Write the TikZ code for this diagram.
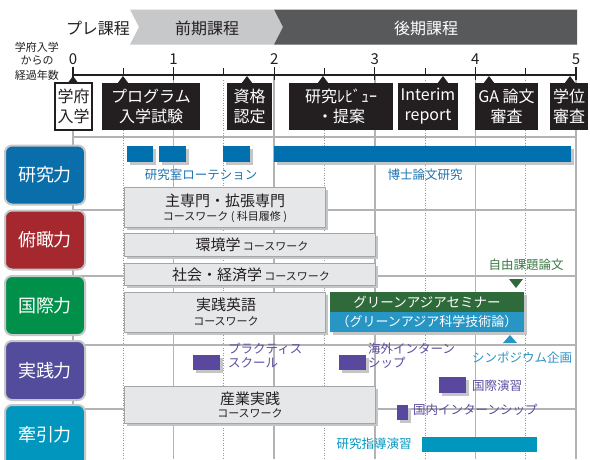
\documentclass[tikz,border=0pt]{standalone}
\usepackage{fontspec}
\setmainfont{Noto Sans CJK JP}
\usetikzlibrary{shadows}
\definecolor{ink}{HTML}{231F20}
\definecolor{hdrlight}{HTML}{C7C8CA}
\definecolor{hdrdark}{HTML}{58595B}
\definecolor{gridc}{HTML}{B3B3B3}
\definecolor{catborder}{HTML}{C6C7C8}
\definecolor{catblue}{HTML}{0A6EAB}
\definecolor{catred}{HTML}{A5282F}
\definecolor{catgreen}{HTML}{00904A}
\definecolor{catpurple}{HTML}{534B9C}
\definecolor{catteal}{HTML}{0096BE}
\definecolor{barblue}{HTML}{0071AE}
\definecolor{txtblue}{HTML}{1F74B0}
\definecolor{seminargreen}{HTML}{2F6B3A}
\definecolor{txtgreen}{HTML}{3C7A45}
\definecolor{seminarteal}{HTML}{2796C5}
\definecolor{txtteal}{HTML}{2F93C3}
\definecolor{boxpurple}{HTML}{5A489E}
\definecolor{txtpurple}{HTML}{5E4DA0}
\definecolor{guideteal}{HTML}{0097BF}
\definecolor{cwfill}{HTML}{E6E7E8}
\definecolor{cwdraw}{HTML}{A3A5A8}
\definecolor{shadowc}{HTML}{C4C5C7}
\begin{document}
\begin{tikzpicture}[x=1pt,y=-1pt,
  gridline/.style={draw=gridc,line width=1.5pt},
  griddot/.style={draw=gridc!85!black,line width=1pt,dash pattern=on 1pt off 1.5pt},
  hdrtext/.style={font=\fontsize{16}{18}\selectfont,inner sep=0pt},
  ticklab/.style={font=\fontsize{15}{16}\selectfont,inner sep=0pt,text=ink},
  leftlab/.style={font=\fontsize{11}{13}\selectfont,inner sep=0pt,text=ink},
  ms/.style={fill=ink,text=white,font=\fontsize{16}{20}\selectfont,align=center,inner sep=0pt,minimum height=47pt},
  cat/.style={rounded corners=7pt,draw=catborder,line width=2pt,minimum width=80pt,minimum height=59pt,text=white,font=\fontsize{18}{20}\selectfont,inner sep=0pt},
  shd/.style={drop shadow={shadow xshift=2.5pt,shadow yshift=-2.5pt,fill=shadowc,opacity=1}},
  bar/.style={inner sep=0pt,outer sep=0pt,anchor=north west,shd},
  cw/.style={fill=cwfill,draw=cwdraw,line width=1.3pt,inner sep=0pt,anchor=north west,shd},
  big/.style={font=\fontsize{15}{18}\selectfont,text=ink,inner sep=0pt},
  small/.style={font=\fontsize{11}{13}\selectfont,text=ink,inner sep=0pt},
  lab/.style={font=\fontsize{12.5}{14}\selectfont,inner sep=0pt}
]
\useasboundingbox (0,0) rectangle (590,459);
\begin{scope}
\clip (0,0) rectangle (590,459);
\fill[white] (0,0) rectangle (590,459);

% header band
\fill[hdrlight] (130,9.5) -- (274,9.5) -- (283,27) -- (274,44.5) -- (130,44.5) -- (139,27) -- cycle;
\fill[hdrdark] (274,9.5) -- (577,9.5) -- (577,44.5) -- (274,44.5) -- (283,27) -- cycle;
\node[hdrtext,text=ink] (pre) at (98,28) {プレ課程};
\node[hdrtext,text=ink] (zenki) at (207,28) {前期課程};
\node[hdrtext,text=white] (kouki) at (426,28) {後期課程};

% left axis label
\node[leftlab] (l1) at (37,47) {学府入学};
\node[leftlab] (l2) at (37,61) {からの};
\node[leftlab] (l3) at (37,75) {経過年数};

% grid
\foreach \t in {0,1,2,3,4,5} \draw[gridline] ({73+100.6*\t},75) -- ({73+100.6*\t},459);
\foreach \t in {0.5,1.5,2.5,3.5,4.5} \draw[griddot] ({73+100.6*\t},80) -- ({73+100.6*\t},459);
\foreach \yy in {137,210,276,345,409} \draw[gridline] (73,\yy) -- (576,\yy);

% axis
\draw[ink,line width=1.3pt] (73,75) -- (576.5,75);
\foreach \t in {0,1,2,3,4,5} {
  \draw[ink,line width=1.3pt] ({73+100.6*\t},67) -- ({73+100.6*\t},80);
  \node[ticklab] (y\t) at ({73+100.6*\t},59) {\t};
}
\foreach \t in {0.5,1.5,2.5,3.5,4.5} \draw[ink,line width=1pt] ({73+100.6*\t},68) -- ({73+100.6*\t},75);

% milestone pointers
\foreach \px in {73,123,247,323,443,489,570} \fill[ink] (\px,76) -- (\px-6,84) -- (\px+6,84) -- cycle;

% milestones
\node[ms,fill=white,draw=ink,line width=1.3pt,text=ink,minimum width=37pt] (m0) at (73.5,106.5) {学府\\入学};
\node[ms,minimum width=98pt] (m1) at (151,106.5) {プログラム\\入学試験};
\node[ms,minimum width=45pt] (m2) at (249.5,106.5) {資格\\認定};
\node[ms,minimum width=104pt] (m3) at (341,106.5) {研究ﾚﾋﾞｭｰ\\・提案};
\node[ms,minimum width=60pt] (m4) at (428,106.5) {Interim\\report};
\node[ms,minimum width=63pt] (m5) at (506.5,106.5) {GA 論文\\審査};
\node[ms,minimum width=38pt] (m6) at (569,106.5) {学位\\審査};

% category boxes
\node[cat,fill=catblue] (c1) at (45,175) {研究力};
\node[cat,fill=catred] (c2) at (45,240) {俯瞰力};
\node[cat,fill=catgreen] (c3) at (45,305.5) {国際力};
\node[cat,fill=catpurple] (c4) at (45,370.5) {実践力};
\node[cat,fill=catteal,minimum height=62pt] (c5) at (45,436) {};
\node[font=\fontsize{18}{20}\selectfont,text=white,inner sep=0pt] (c5t) at (45,435) {牽引力};

% research row
\node[bar,fill=barblue,minimum width=26pt,minimum height=16pt] (b1) at (127,146) {};
\node[bar,fill=barblue,minimum width=27pt,minimum height=16pt] (b2) at (159,146) {};
\node[bar,fill=barblue,minimum width=27pt,minimum height=16pt] (b3) at (223,146) {};
\node[bar,fill=barblue,minimum width=297pt,minimum height=16pt] (b4) at (274,146) {};
\node[lab,text=txtblue] (t1) at (201,175) {研究室ローテション};
\node[lab,text=txtblue] (t2) at (425,175) {博士論文研究};

% coursework boxes
\node[cw,minimum width=201pt,minimum height=40pt] (k1) at (124,187) {};
\node[big] (k1a) at (225,201) {主専門・拡張専門};
\node[small] (k1b) at (225,217) {コースワーク ( 科目履修 )};
\node[cw,minimum width=251pt,minimum height=23pt] (k2) at (124,233) {};
\node[inner sep=0pt,text=ink] (k2a) at (252,245) {{\fontsize{15}{18}\selectfont 環境学} {\fontsize{11}{13}\selectfont コースワーク}};
\node[cw,minimum width=251pt,minimum height=22pt] (k3) at (124,263) {};
\node[inner sep=0pt,text=ink] (k3a) at (251,275) {{\fontsize{15}{18}\selectfont 社会・経済学} {\fontsize{11}{13}\selectfont コースワーク}};
\node[cw,minimum width=201pt,minimum height=40pt] (k4) at (124,292) {};
\node[big] (k4a) at (226,305) {実践英語};
\node[small] (k4b) at (226,321) {コースワーク};
\node[cw,minimum width=251pt,minimum height=37pt] (k5) at (124,386) {};
\node[big] (k5a) at (250,398.5) {産業実践};
\node[small] (k5b) at (250,413) {コースワーク};

% international row
\node[lab,text=txtgreen] (free) at (526,265) {自由課題論文};
\fill[seminargreen] (509,279) -- (523,279) -- (516,288) -- cycle;
\node[bar,fill=seminarteal,minimum width=194pt,minimum height=40pt] (s0) at (330,292) {};
\node[inner sep=0pt,outer sep=0pt,anchor=north west,fill=seminargreen,minimum width=194pt,minimum height=20pt,text=white,font=\fontsize{13.5}{15}\selectfont] (s1) at (330,292) {グリーンアジアセミナー};
\node[inner sep=0pt,text=white,font=\fontsize{13}{15}\selectfont] (s2) at (427,322) {（グリーンアジア科学技術論）};
\fill[seminarteal] (510,335) -- (503,343) -- (517,343) -- cycle;
\node[lab,text=txtteal] (sym) at (522,358) {シンポジウム企画};

% practice row
\node[bar,fill=boxpurple,minimum width=27pt,minimum height=15pt] (p1) at (193,355) {};
\node[lab,text=txtpurple,anchor=west,align=left,font=\fontsize{12.5}{14}\selectfont] (p1t) at (228,356) {プラクティス\\スクール};
\node[bar,fill=boxpurple,minimum width=27pt,minimum height=15pt] (p2) at (339,355) {};
\node[lab,text=txtpurple,anchor=west,align=left,font=\fontsize{12.5}{14}\selectfont] (p2t) at (368,356) {海外インターン\\シップ};
\node[bar,fill=boxpurple,minimum width=27pt,minimum height=16pt] (p3) at (439,377) {};
\node[lab,text=txtpurple,anchor=west] (p3t) at (472,386) {国際演習};
\node[bar,fill=boxpurple,minimum width=11pt,minimum height=15pt] (p4) at (397,405) {};
\node[lab,text=txtpurple,anchor=west] (p4t) at (413,410) {国内インターンシップ};

% leadership row
\node[lab,text=guideteal] (g1) at (374,444) {研究指導演習};
\node[inner sep=0pt,outer sep=0pt,anchor=north west,fill=guideteal,minimum width=115pt,minimum height=15pt] (g2) at (422,437) {};
\end{scope}
\end{tikzpicture}
\end{document}
